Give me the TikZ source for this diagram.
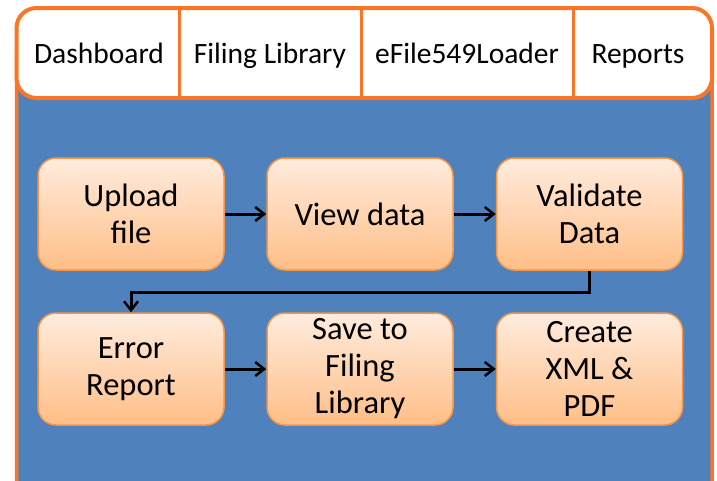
\documentclass[tikz,border=0pt]{standalone}
\usepackage{fontspec}
\setmainfont{Carlito}
\usetikzlibrary{arrows.meta}
\definecolor{frameorange}{RGB}{250,118,38}
\definecolor{bgblue}{RGB}{79,129,189}
\definecolor{boxedge}{RGB}{245,150,70}
\definecolor{boxtop}{RGB}{255,236,222}
\definecolor{boxbot}{RGB}{255,190,135}
\tikzset{
  proc/.style={draw=boxedge, line width=1.5pt, rounded corners=18pt,
    top color=boxtop, bottom color=boxbot,
    minimum width=186pt, minimum height=112pt, inner sep=2pt,
    align=center, font=\fontsize{32.5}{37}\selectfont, text=black},
  tablabel/.style={font=\fontsize{29.5}{32}\selectfont, text=black, inner sep=0pt, anchor=base},
  flow/.style={-{Straight Barb[length=9pt,width=14pt,line width=2.5pt]}, line width=3pt, black},
  divider/.style={draw=frameorange, line width=3pt}
}
\begin{document}
\begin{tikzpicture}[x=1pt,y=-1pt]
\useasboundingbox (0,0) rectangle (717,480);
\clip (0,0) rectangle (717,480);
% blue panel
\draw[fill=bgblue, draw=frameorange, line width=3.5pt, rounded corners=18pt] (16.5,40) rectangle (712,540);
% tab bar
\draw[fill=white, draw=frameorange, line width=4pt, rounded corners=20pt] (16.5,8) rectangle (712,98);
\draw[divider] (179,8) -- (179,98);
\draw[divider] (361,8) -- (361,98);
\draw[divider] (573,8) -- (573,98);
\node[tablabel] (t1) at (99,63) {Dashboard};
\node[tablabel] (t2) at (270,63) {Filing Library};
\node[tablabel] (t3) at (467,63) {eFile549Loader};
\node[tablabel] (t4) at (638,63) {Reports};
% process boxes
\node[proc] (b1) at (131,214) {Upload\\file};
\node[proc] (b2) at (360,214) {View data};
\node[proc] (b3) at (589.5,214) {Validate\\Data};
\node[proc] (b4) at (131,369) {Error\\Report};
\node[proc] (b5) at (360,369) {Save to\\Filing\\Library};
\node[proc] (b6) at (589.5,369) {Create\\XML \&\\PDF};
\coordinate (j) at (589.5,292);
\draw[flow] (b1) -- (b2);
\draw[flow] (b2) -- (b3);
\draw[flow] (b3.south) -- (j) -| (b4.north);
\draw[flow] (b4) -- (b5);
\draw[flow] (b5) -- (b6);
\end{tikzpicture}
\end{document}
